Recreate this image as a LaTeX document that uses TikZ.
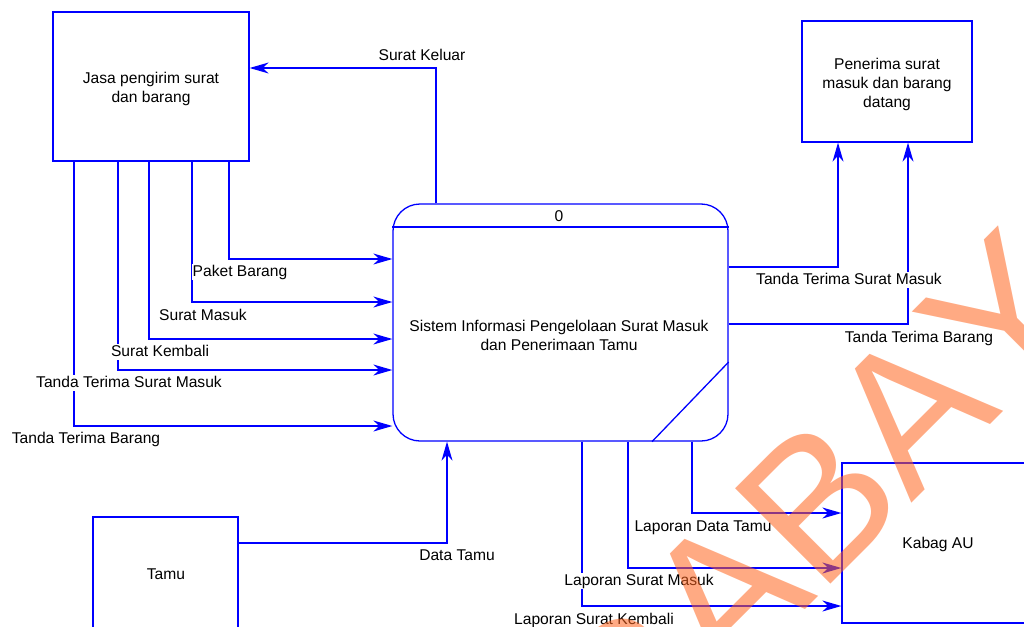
\documentclass[tikz,border=0pt]{standalone}
\usepackage{fontspec}
\setmainfont{Liberation Sans}
\newfontfamily\wmfont[Kerning=Off]{Liberation Sans}
\usetikzlibrary{arrows.meta}
\definecolor{flowblue}{RGB}{0,0,255}
\definecolor{wmorange}{RGB}{255,100,30}
\begin{document}
\begin{tikzpicture}[x=1pt,y=-1pt,
  txt/.style={font=\fontsize{15.6}{19}\selectfont, text=black, align=center},
  entity/.style={draw=flowblue, line width=1.3pt, inner sep=0pt},
  flow/.style={draw=flowblue, line width=1.3pt,
    -{Stealth[length=19pt,width=11pt,inset=6pt]}},
  plain/.style={draw=flowblue, line width=1.3pt},
  lbl/.style={txt, fill=white, inner sep=1pt, text height=11.3pt, text depth=3.3pt},
]
\useasboundingbox (0,0) rectangle (1024,626);
\clip (0,0) rectangle (1024,626);

% external entities
\node[entity, minimum width=196pt, minimum height=149pt] (jasa) at (151,86.5) {};
\node[txt] (jasatext) at (151,88.5) {Jasa pengirim surat\\dan barang};
\node[entity, minimum width=170pt, minimum height=121pt] (pen) at (887,81.5) {};
\node[txt] (pentext) at (887,84) {Penerima surat\\masuk dan barang\\datang};
\node[entity, minimum width=145pt, minimum height=114pt] (tamu) at (165.5,574) {};
\node[txt] (tamutext) at (166,574) {Tamu};
\node[entity, minimum width=192pt, minimum height=160pt] (kabag) at (938,543) {};
\node[txt] (kabagtext) at (938,544) {Kabag AU};

% process 0
\node[draw=flowblue, line width=1.3pt, rounded corners=27pt,
  minimum width=335pt, minimum height=237pt, inner sep=0pt] (proc) at (560.5,322.5) {};
\draw[plain] (proc.west |- 0,227) -- (proc.east |- 0,227);
\draw[plain] (proc.east |- 0,362) -- (proc.south -| 652,0);
\node[txt] (pnum) at (559,216) {0};
\node[txt] (pname) at (559,335) {Sistem Informasi Pengelolaan Surat Masuk\\dan Penerimaan Tamu};

% data flows
\draw[flow] (proc.north -| 436,0) |- (jasa.east |- 0,68);
\draw[flow] (jasa.south -| 229,0) |- (proc.west |- 0,259);
\draw[flow] (jasa.south -| 192,0) |- (proc.west |- 0,302);
\draw[flow] (jasa.south -| 149,0) |- (proc.west |- 0,339);
\draw[flow] (jasa.south -| 118,0) |- (proc.west |- 0,370);
\draw[flow] (jasa.south -| 74,0) |- (proc.west |- 0,426);
\draw[flow] (tamu.east |- 0,543) -| (proc.south -| 447,0);
\draw[flow] (proc.east |- 0,267) -| (pen.south -| 838,0);
\draw[flow] (proc.east |- 0,324) -| (pen.south -| 908,0);
\draw[flow] (proc.south -| 692,0) |- (kabag.west |- 0,513);
\draw[flow] (proc.south -| 628,0) |- (kabag.west |- 0,568);
\draw[flow] (proc.south -| 582,0) |- (kabag.west |- 0,606);

% flow labels
\node[lbl] (l1) at (422,56) {Surat Keluar};
\node[lbl] (l2) at (240,272) {Paket Barang};
\node[lbl] (l3) at (203,316) {Surat Masuk};
\node[lbl] (l4) at (160,352) {Surat Kembali};
\node[lbl] (l5) at (129,383) {Tanda Terima Surat Masuk};
\node[lbl] (l6) at (86,439) {Tanda Terima Barang};
\node[lbl] (l7) at (457,556) {Data Tamu};
\node[lbl] (l8) at (849,280) {Tanda Terima Surat Masuk};
\node[lbl] (l9) at (919,338) {Tanda Terima Barang};
\node[lbl] (l10) at (703,527) {Laporan Data Tamu};
\node[lbl] (l11) at (639,581) {Laporan Surat Masuk};
\node[lbl] (l12) at (594,620) {Laporan Surat Kembali};

% watermark
\node[rotate=45, anchor=base west, inner sep=0pt, text=wmorange, opacity=0.55,
  font=\wmfont\fontsize{196}{200}\selectfont] (wm) at (434,981) {SURABAYA};
\end{tikzpicture}
\end{document}
